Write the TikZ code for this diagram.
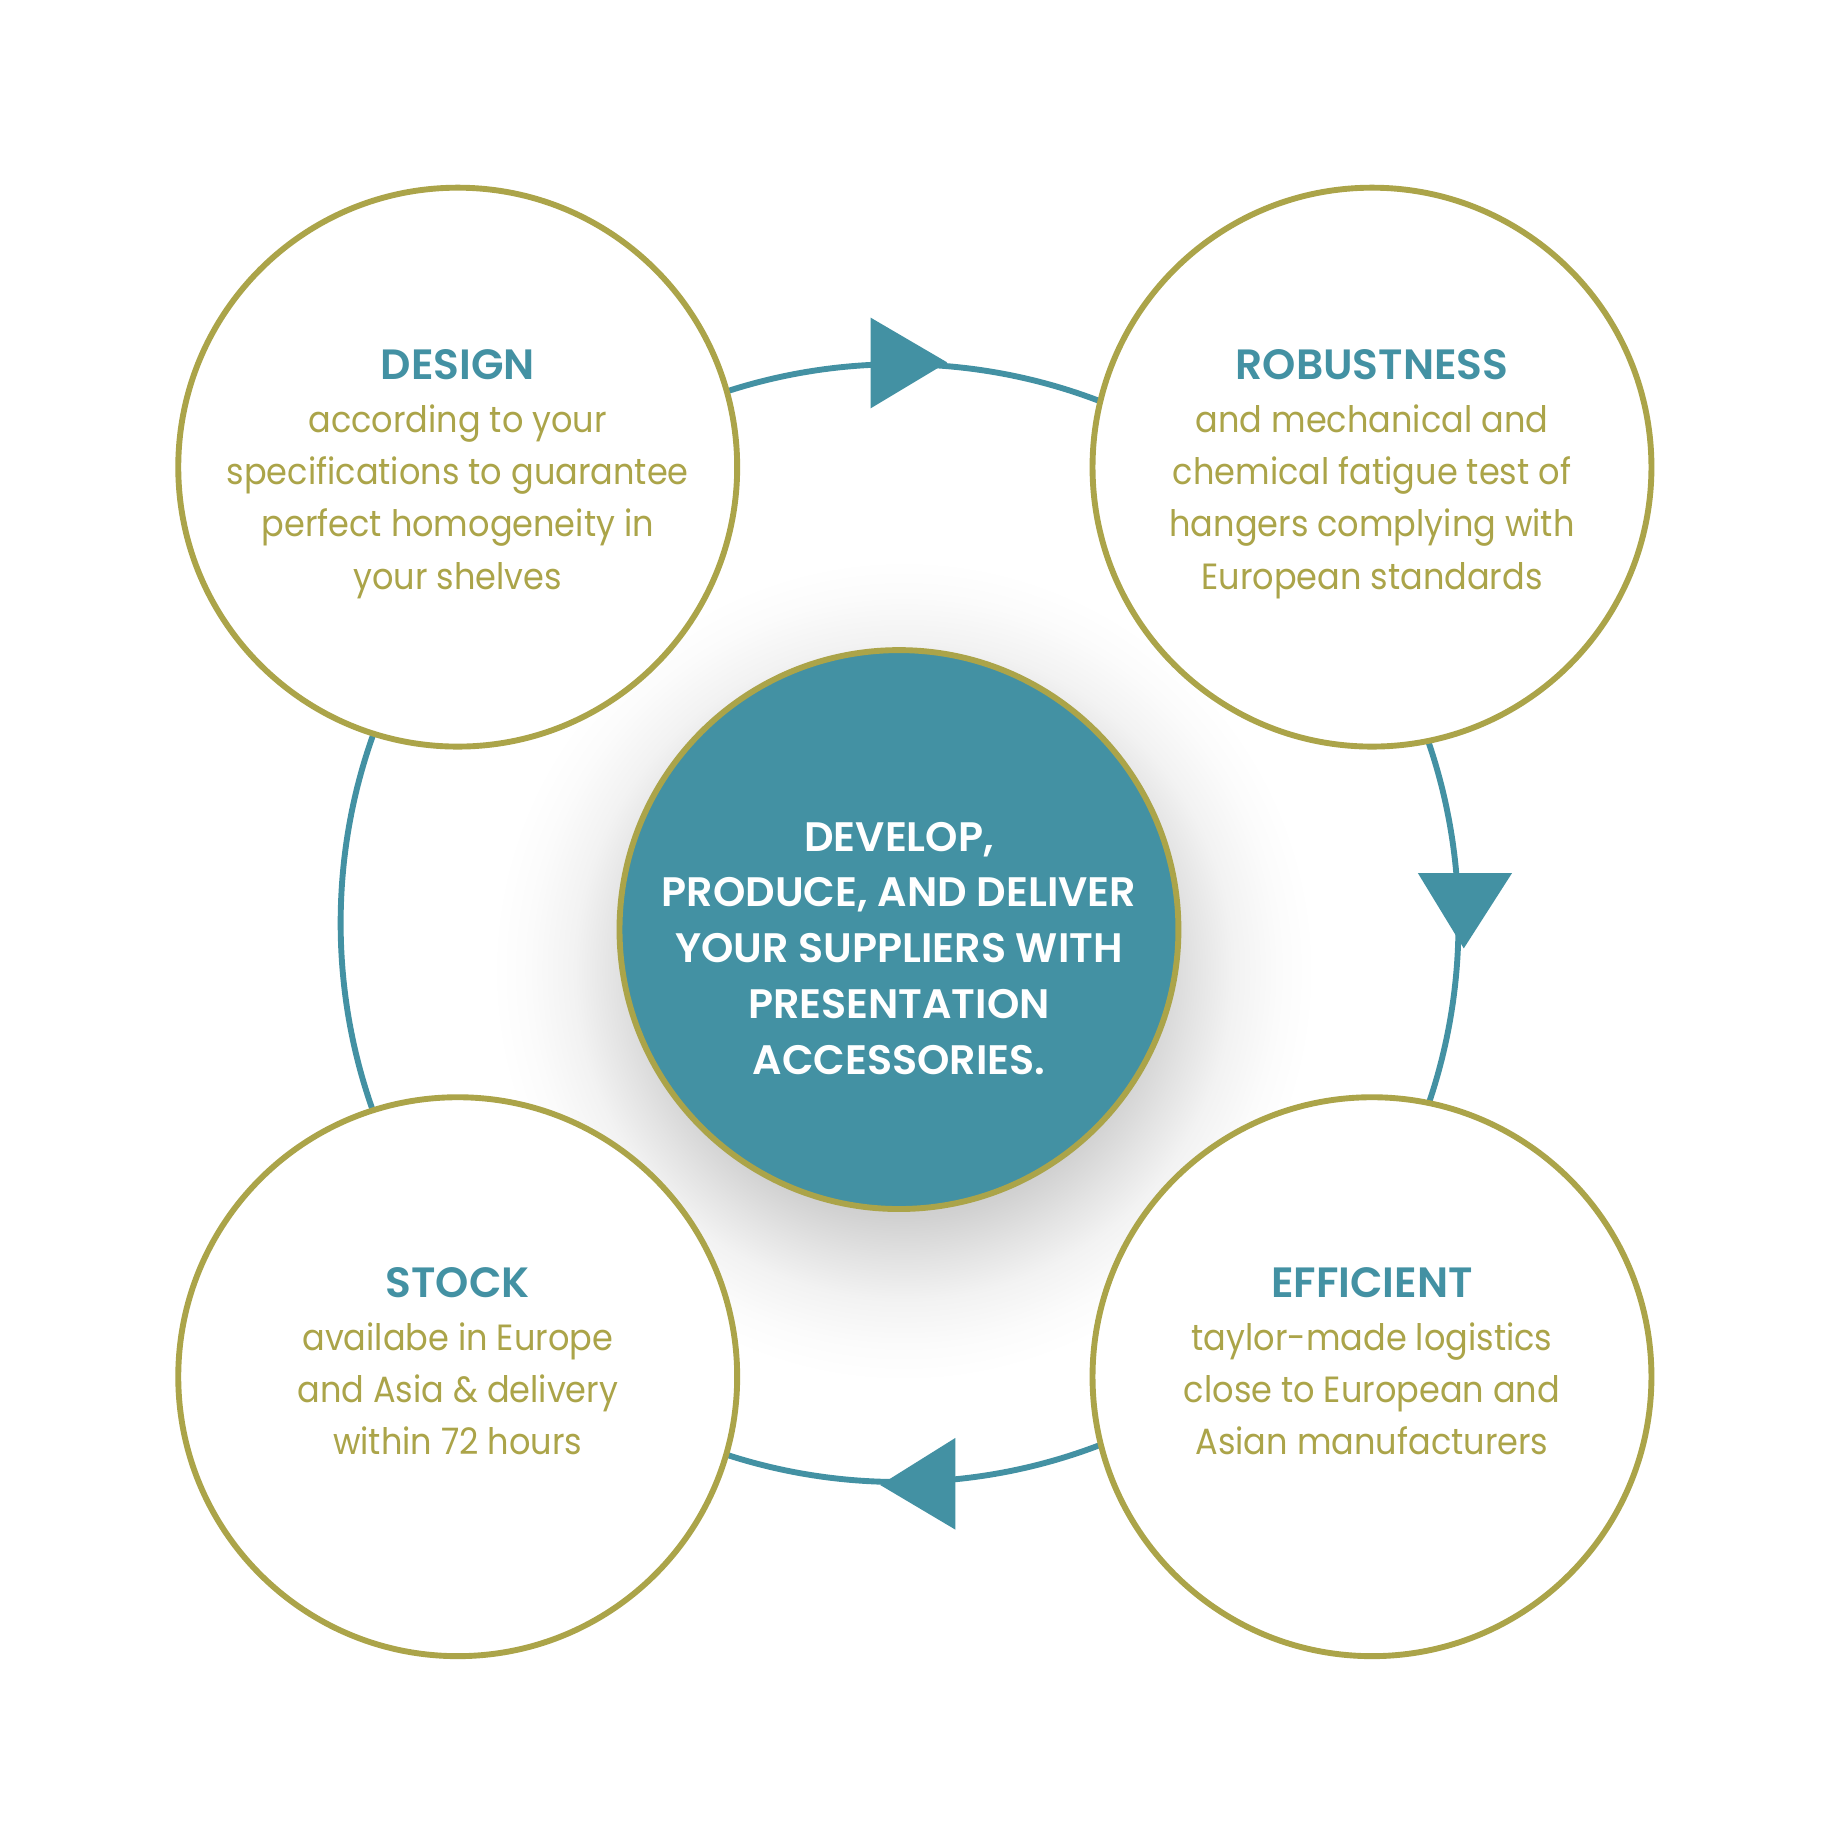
\documentclass[tikz,border=0pt]{standalone}
\usepackage{fontspec}
\setmainfont{Poppins}[FakeStretch=0.92]
\newfontfamily\widefont{Poppins}[BoldFont={Poppins SemiBold}]
\definecolor{ringteal}{HTML}{4391A3}
\definecolor{olivegold}{HTML}{ABA449}
\pgfdeclareradialshading{cshadow}{\pgfpoint{0bp}{0bp}}{color(0bp)=(black!22); color(12.5bp)=(black!22); color(15bp)=(black!18); color(17.6bp)=(black!11); color(20bp)=(black!5); color(22.8bp)=(black!1.5); color(25bp)=(white); color(50bp)=(white)}
\tikzset{
  bubble/.style={circle, draw=olivegold, line width=5pt, fill=white, minimum size=475pt, inner sep=0pt},
  hub/.style={circle, draw=olivegold, line width=5pt, fill=ringteal, minimum size=475pt, inner sep=0pt},
  ringline/.style={draw=ringteal, line width=5pt},
  tip/.style={fill=ringteal},
  bodytext/.style={align=center, text=olivegold, font=\fontsize{31}{44.5}\selectfont, inner sep=0pt},
  hubtext/.style={align=center, text=white, font=\widefont\fontsize{35}{47.5}\selectfont\bfseries, inner sep=0pt},
}
\newcommand{\ttl}[1]{{\color{ringteal}\widefont\fontsize{36}{41}\selectfont\bfseries #1}}
\begin{document}
\begin{tikzpicture}[x=1pt,y=-1pt]
\useasboundingbox (0,0) rectangle (1567,1568);
\fill[white] (0,0) rectangle (1567,1568);
% shadow of the hub
\shade[shading=cshadow] (768,825) circle (350pt);
% ring
\coordinate (ringc) at (764.5,784.5);
\draw[ringline] (ringc) circle (475pt);
% arrow heads
\fill[tip] (740,270) -- (805,308) -- (740,347) -- cycle;
\fill[tip] (1205,742) -- (1285,742) -- (1244,806) -- cycle;
\fill[tip] (812,1222) -- (812,1300) -- (748,1262) -- cycle;
% outer circles
\node[bubble] (design) at (389,397) {};
\node[bubble] (robust) at (1166,397) {};
\node[bubble] (stock) at (389,1170) {};
\node[bubble] (effic) at (1166,1170) {};
\node[hub] (hub) at (764,790) {};
% texts
\node[bodytext] (designtxt) at (389,403) {\ttl{DESIGN}\\according to your\\specifications to guarantee\\perfect homogeneity in\\your shelves};
\node[bodytext] (robusttxt) at (1166,403) {\ttl{ROBUSTNESS}\\and mechanical and\\chemical fatigue test of\\hangers complying with\\European standards};
\node[bodytext] (stocktxt) at (389,1157) {\ttl{STOCK}\\availabe in Europe\\and Asia \& delivery\\within 72 hours};
\node[bodytext] (effictxt) at (1166,1157) {\ttl{EFFICIENT}\\taylor-made logistics\\close to European and\\Asian manufacturers};
\node[hubtext] (hubtxt) at (764,806) {DEVELOP,\\PRODUCE, AND DELIVER\\YOUR SUPPLIERS WITH\\PRESENTATION\\ACCESSORIES.};
\end{tikzpicture}
\end{document}
